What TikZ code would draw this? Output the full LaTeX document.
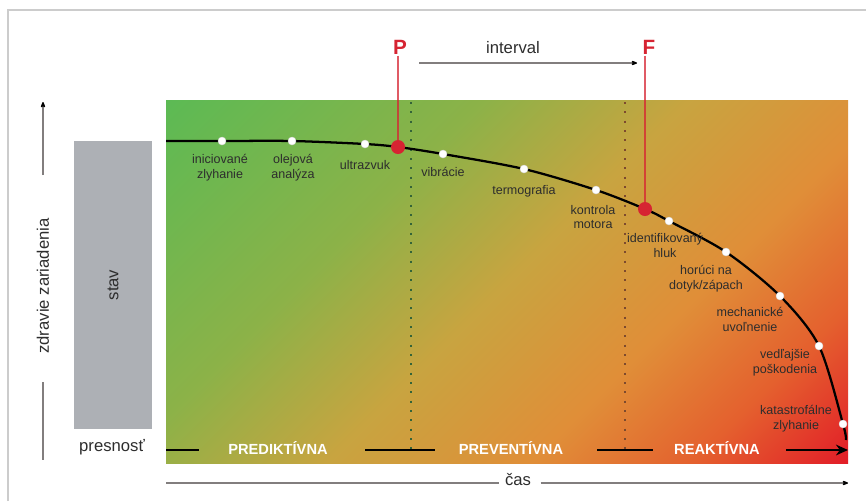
\documentclass[tikz,border=0pt]{standalone}
\usepackage{fontspec}
\setmainfont{Liberation Sans}
\usetikzlibrary{arrows.meta}

\definecolor{hgreen}{RGB}{92,186,84}
\definecolor{hlime}{RGB}{140,178,72}
\definecolor{hgold}{RGB}{200,164,64}
\definecolor{horange}{RGB}{224,142,56}
\definecolor{hdeep}{RGB}{228,96,46}
\definecolor{hred}{RGB}{226,30,40}
\definecolor{pfred}{RGB}{214,36,50}
\definecolor{boxgray}{RGB}{173,176,181}
\definecolor{txtgray}{RGB}{45,45,45}
\definecolor{axgray}{RGB}{130,126,126}
\definecolor{dotgreen}{RGB}{52,100,56}
\definecolor{dotbrown}{RGB}{125,74,46}

\pgfdeclarehorizontalshading{health}{100bp}{color(0bp)=(hgreen); color(14.6bp)=(hgreen);
  color(36bp)=(hlime); color(50bp)=(hgold); color(64bp)=(horange);
  color(75bp)=(hdeep); color(85.4bp)=(hred); color(100bp)=(hred)}

\tikzset{
  lbl/.style={font=\fontsize{9.4}{11.2}\selectfont,text=txtgray,align=center,inner sep=0pt},
  big/.style={font=\fontsize{12.5}{14}\selectfont,text=txtgray,inner sep=0pt},
  zone/.style={font=\bfseries\fontsize{11}{13}\selectfont,text=white,inner sep=0pt},
  pflbl/.style={font=\bfseries\fontsize{15.5}{17}\selectfont,text=pfred,inner sep=1pt},
  wdot/.style={circle,fill=white,draw=white!85!black,line width=0.3pt,inner sep=0pt,minimum size=6pt},
  rdot/.style={circle,fill=pfred,inner sep=0pt,minimum size=10.5pt},
  axisline/.style={axgray,line width=1.4pt},
  seg/.style={black,line width=1.6pt},
  pfline/.style={pfred,line width=0.8pt,opacity=0.75},
  dotline/.style={line width=1.7pt,dash pattern=on 1.6pt off 5.4pt}
}

\begin{document}
\begin{tikzpicture}[x=0.75pt,y=-0.75pt,>={Stealth[round,length=6pt,color=black]}]
  \useasboundingbox (0,0) rectangle (866,501);
  % frame
  \draw[black!20,line width=0.8pt] (8,501) -- (8,10) -- (866,10);
  % background of the health chart
  \shade[shading=health,shading angle=-45] (166,100) rectangle (848,463);
  % state box
  \fill[boxgray] (74,141) rectangle (152,429);
  \node[big,rotate=90] (stav) at (113,285) {stav};
  \node[big] (presnost) at (112,447) {presnosť};
  % vertical axis
  \node[big,rotate=90] (zdravie) at (43,286) {zdravie zariadenia};
  \coordinate (vup) at (43,175);
  \coordinate (vtop) at (43,102);
  \coordinate (vlow) at (43,382);
  \coordinate (vbot) at (43,460);
  \draw[axisline,->] (vup) -- (vtop);
  \draw[axisline] (vlow) -- (vbot);
  % time axis
  \node[big] (cas) at (518,480) {čas};
  \coordinate (tstart) at (166,483);
  \coordinate (tend) at (848,483);
  \draw[axisline] (tstart) -- ([xshift=-4pt]cas.west |- tstart);
  \draw[axisline,->] ([xshift=7pt]cas.east |- tend) -- (tend);
  % divisions
  \draw[dotline,dotgreen] (411,102) -- (411,450);
  \draw[dotline,dotbrown] (625,102) -- (625,450);
  % zones
  \node[zone] (pred) at (278,448) {PREDIKTÍVNA};
  \node[zone] (prev) at (511,448) {PREVENTÍVNA};
  \node[zone] (reak) at (717,448) {REAKTÍVNA};
  \draw[seg] (166,450) -- (199,450);
  \draw[seg] (365,450) -- (435,450);
  \draw[seg] (597,450) -- (653,450);
  \draw[seg,-{Stealth[length=9pt,width=8pt]}] (786,450) -- (848,450);
  % health curve
  \coordinate (c0) at (166,141);
  \coordinate (c1) at (222,141);
  \coordinate (c2) at (292,141);
  \coordinate (c3) at (365,144);
  \coordinate (cp) at (398,147);
  \coordinate (c4) at (443,154);
  \coordinate (c5) at (524,169);
  \coordinate (c6) at (596,190);
  \coordinate (cf) at (645,209);
  \coordinate (c7) at (669,221);
  \coordinate (c8) at (726,252);
  \coordinate (c9) at (780,296);
  \coordinate (c10) at (819,346);
  \coordinate (c11) at (843,424);
  \coordinate (c12) at (846,440);
  \draw[black,line width=1.7pt] plot[smooth] coordinates
    {(c0) (c1) (c2) (c3) (cp) (c4) (c5) (c6) (cf) (c7) (c8) (c9) (c10) (c11) (c12)};
  \foreach \c in {c1,c2,c3,c4,c5,c6,c7,c8,c9,c10,c11}
    \node[wdot] (d\c) at (\c) {};
  % P and F
  \node[pflbl] (plbl) at (400,47) {P};
  \node[pflbl] (flbl) at (649,47) {F};
  \node[rdot] (pdot) at (cp) {};
  \node[rdot] (fdot) at (cf) {};
  \draw[pfline] (plbl.south -| pdot) -- (pdot);
  \draw[pfline] (flbl.south -| fdot) -- (fdot);
  \node[big] (interval) at (513,48) {interval};
  \coordinate (ivs) at (419,63);
  \coordinate (ive) at (637,63);
  \draw[axisline,->] (ivs) -- (ive);
  % labels on the curve
  \node[lbl] (l1) at (220,168) {iniciované\\zlyhanie};
  \node[lbl] (l2) at (293,168) {olejová\\analýza};
  \node[lbl] (l3) at (365,165) {ultrazvuk};
  \node[lbl] (l4) at (443,172) {vibrácie};
  \node[lbl] (l5) at (524,191) {termografia};
  \node[lbl] (l6) at (593,217) {kontrola\\motora};
  \node[lbl] (l7) at (665,245) {identifikovaný\\hluk};
  \node[lbl] (l8) at (706,279) {horúci na\\dotyk/zápach};
  \node[lbl] (l9) at (750,319) {mechanické\\uvoľnenie};
  \node[lbl] (l10) at (785,363) {vedľajšie\\poškodenia};
  \node[lbl] (l11) at (796,419) {katastrofálne\\zlyhanie};
\end{tikzpicture}
\end{document}
